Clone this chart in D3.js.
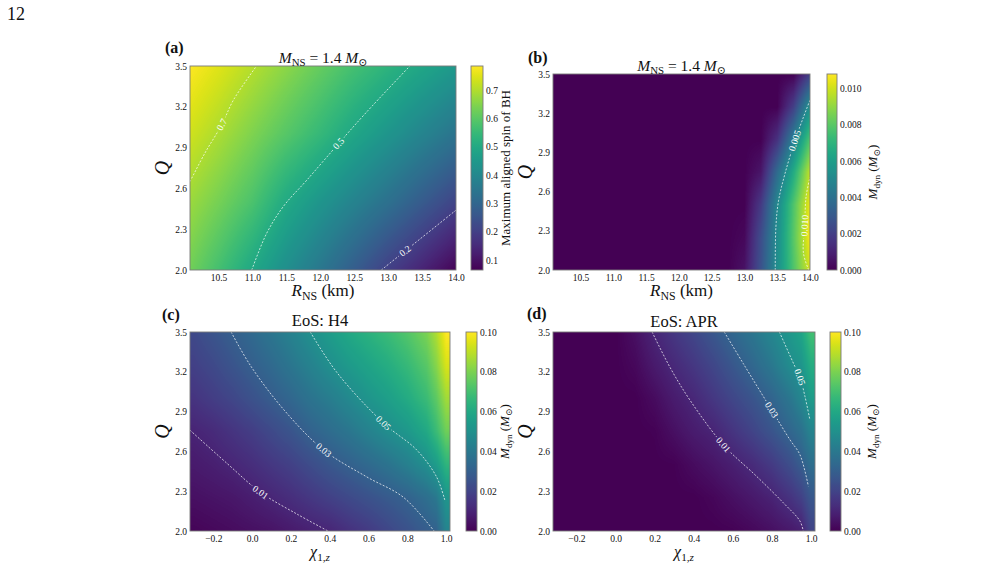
<!DOCTYPE html>
<html>
<head>
<meta charset="utf-8">
<script src="https://cdn.jsdelivr.net/npm/d3@7"></script>
<style>
  body { margin: 0; background: #fff; }
  svg text { font-family: "Liberation Serif", "DejaVu Serif", serif; fill: #111; }
</style>
</head>
<body>
<svg id="fig" width="993" height="581"></svg>
<script>
// ---- (a) maximum aligned BH spin over R_NS (km) and Q ----
const spinR = [10.0, 10.5, 11.0, 11.5, 12.0, 12.5, 13.0, 13.5, 14.0];
const spinQ = [2.0, 2.5, 3.0, 3.5];
const spinGrid = [
  [0.64, 0.57, 0.495, 0.42, 0.35, 0.275, 0.20, 0.135, 0.07],
  [0.685, 0.635, 0.58, 0.50, 0.44, 0.385, 0.33, 0.27, 0.21],
  [0.74, 0.695, 0.645, 0.595, 0.545, 0.49, 0.44, 0.39, 0.34],
  [0.79, 0.75, 0.705, 0.66, 0.615, 0.57, 0.53, 0.49, 0.45]
];
const spinContours = [
  { label: '0.7', at: 2, pts: [[10.08, 2.65], [10.30, 2.86], [10.55, 3.07], [10.72, 3.25], [11.06, 3.5]] },
  { label: '0.5', at: 4, pts: [[10.99, 2.0], [11.21, 2.27], [11.46, 2.47], [11.80, 2.66], [12.27, 2.93], [12.68, 3.16], [13.32, 3.5]] },
  { label: '0.2', at: 1, pts: [[12.90, 2.0], [13.25, 2.14], [14.0, 2.44]] }
];
const spinTicks = [0.1, 0.2, 0.3, 0.4, 0.5, 0.6, 0.7];

// ---- (b) dynamical ejecta mass over R_NS and Q ----
const ejR = [12.75, 13.0, 13.25, 13.5, 13.75, 14.0];
const ejQ = [2.0, 2.25, 2.5, 2.75, 3.0, 3.25, 3.5];
const ejGrid = [
  [0, 0.0005, 0.0027, 0.0053, 0.0078, 0.0101],
  [0, 0.0002, 0.0025, 0.0052, 0.0080, 0.0107],
  [0, 0, 0.0018, 0.0050, 0.0078, 0.0105],
  [0, 0, 0.0006, 0.0037, 0.0066, 0.0098],
  [0, 0, 0, 0.0015, 0.0046, 0.0078],
  [0, 0, 0, 0, 0.0020, 0.0055],
  [0, 0, 0, 0, 0, 0.0020]
];
const ejContours = [
  { label: '0.005', at: 4, pts: [[13.47, 2.0], [13.48, 2.33], [13.52, 2.53], [13.62, 2.74], [13.77, 2.99], [13.90, 3.17], [14.0, 3.30]] },
  { label: '0.010', at: 2, pts: [[13.98, 2.0], [13.90, 2.13], [13.92, 2.34], [13.94, 2.56], [14.0, 2.71]] }
];
const ejTicks = [0.000, 0.002, 0.004, 0.006, 0.008, 0.010];

// ---- (c), (d) dynamical ejecta mass over chi_1z and Q ----
const chiCols = [-0.3, -0.2, -0.1, 0.0, 0.1, 0.2, 0.3, 0.4, 0.5, 0.6, 0.7, 0.8, 0.9, 0.95, 1.0];
const chiQ = [2.0, 2.25, 2.5, 2.75, 3.0, 3.25, 3.5];
const mdynH4 = [
  [0.001, 0.002, 0.003, 0.004, 0.005, 0.007, 0.009, 0.0105, 0.014, 0.017, 0.021, 0.025, 0.029, 0.031, 0.045],
  [0.004, 0.005, 0.006, 0.008, 0.0105, 0.013, 0.016, 0.019, 0.022, 0.025, 0.028, 0.031, 0.036, 0.040, 0.052],
  [0.007, 0.0085, 0.0105, 0.013, 0.016, 0.019, 0.023, 0.027, 0.0305, 0.034, 0.038, 0.043, 0.0495, 0.055, 0.065],
  [0.010, 0.012, 0.015, 0.018, 0.022, 0.026, 0.031, 0.035, 0.039, 0.044, 0.049, 0.053, 0.060, 0.068, 0.078],
  [0.015, 0.018, 0.021, 0.025, 0.029, 0.033, 0.038, 0.042, 0.047, 0.052, 0.056, 0.061, 0.068, 0.075, 0.086],
  [0.019, 0.022, 0.026, 0.030, 0.034, 0.039, 0.044, 0.0495, 0.054, 0.058, 0.062, 0.067, 0.074, 0.082, 0.094],
  [0.022, 0.026, 0.030, 0.034, 0.039, 0.044, 0.050, 0.055, 0.060, 0.064, 0.068, 0.073, 0.080, 0.088, 0.100]
];
const mdynAPR = [
  [0, 0, 0, 0, 0, 0, 0, 0, 0, 0.0005, 0.002, 0.004, 0.0065, 0.0085, 0.020],
  [0, 0, 0, 0, 0, 0, 0, 0, 0.0015, 0.004, 0.0065, 0.0095, 0.015, 0.019, 0.027],
  [0, 0, 0, 0, 0, 0, 0.0003, 0.003, 0.0055, 0.0085, 0.012, 0.017, 0.024, 0.029, 0.036],
  [0, 0, 0, 0, 0, 0.0005, 0.004, 0.0075, 0.010, 0.015, 0.020, 0.026, 0.033, 0.037, 0.045],
  [0, 0, 0, 0, 0, 0.003, 0.0075, 0.011, 0.016, 0.021, 0.026, 0.032, 0.040, 0.046, 0.055],
  [0, 0, 0, 0, 0.002, 0.007, 0.0115, 0.016, 0.021, 0.027, 0.033, 0.040, 0.049, 0.052, 0.062],
  [0, 0, 0, 0, 0.004, 0.0105, 0.016, 0.021, 0.027, 0.033, 0.039, 0.046, 0.054, 0.058, 0.070]
];
const h4Contours = [
  { label: '0.01', at: 2, pts: [[-0.32, 2.76], [-0.128, 2.508], [0.043, 2.292], [0.232, 2.127], [0.391, 2.0]] },
  { label: '0.03', at: 3, pts: [[-0.108, 3.5], [-0.008, 3.246], [0.163, 2.915], [0.369, 2.61], [0.592, 2.407], [0.780, 2.254], [0.938, 2.0]] },
  { label: '0.05', at: 2, pts: [[0.300, 3.5], [0.437, 3.195], [0.677, 2.814], [0.849, 2.610], [0.951, 2.407], [0.994, 2.229]] }
];
const aprContours = [
  { label: '0.01', at: 3, pts: [[0.187, 3.5], [0.277, 3.2375], [0.380, 2.9875], [0.551, 2.65], [0.721, 2.4125], [0.858, 2.2125], [0.943, 2.075], [0.960, 2.0]] },
  { label: '0.03', at: 2, pts: [[0.556, 3.5], [0.653, 3.2625], [0.798, 2.9125], [0.892, 2.6875], [0.943, 2.575], [0.986, 2.3375]] },
  { label: '0.05', at: 2, pts: [[0.838, 3.5], [0.918, 3.2375], [0.943, 3.16], [0.969, 3.0125], [0.994, 2.8375]] }
];
const mdynTicks = [0.00, 0.02, 0.04, 0.06, 0.08, 0.10];

const qTicks = [2.0, 2.3, 2.6, 2.9, 3.2, 3.5];
const rTicks = [10.5, 11.0, 11.5, 12.0, 12.5, 13.0, 13.5, 14.0];
const chiTicks = [-0.2, 0.0, 0.2, 0.4, 0.6, 0.8, 1.0];

// =============================================================================
const svg = d3.select('#fig');
const defs = svg.append('defs');
const W = 993, H = 581;

// vertical viridis ramp for the colorbars
const grad = defs.append('linearGradient').attr('id', 'viridisV')
  .attr('x1', 0).attr('y1', 1).attr('x2', 0).attr('y2', 0);
d3.range(0, 1.0001, 1 / 40).forEach(t =>
  grad.append('stop').attr('offset', t).attr('stop-color', d3.interpolateViridis(t)));

svg.append('text').attr('x', 7).attr('y', 20).style('font-size', '18px').text('12');

function cellIndex(arr, v) {
  let i = d3.bisectRight(arr, v) - 1;
  i = Math.max(0, Math.min(arr.length - 2, i));
  const t = Math.max(0, Math.min(1, (v - arr[i]) / (arr[i + 1] - arr[i])));
  return [i, t];
}

// heatmap image: grid drawn at screen resolution with bilinear shading
function heatImage(g, xs, ys, grid, x, y, color) {
  const [px0, px1] = x.range();
  const [py1, py0] = y.range();
  const w = Math.round(px1 - px0), h = Math.round(py1 - py0);
  const canvas = document.createElement('canvas');
  canvas.width = w; canvas.height = h;
  const ctx = canvas.getContext('2d');
  const img = ctx.createImageData(w, h);
  for (let j = 0; j < h; j++) {
    const [yi, ty] = cellIndex(ys, y.invert(py0 + j + 0.5));
    for (let i = 0; i < w; i++) {
      const [xi, tx] = cellIndex(xs, x.invert(px0 + i + 0.5));
      const a = grid[yi][xi] * (1 - tx) + grid[yi][xi + 1] * tx;
      const b = grid[yi + 1][xi] * (1 - tx) + grid[yi + 1][xi + 1] * tx;
      const c = d3.rgb(color(a * (1 - ty) + b * ty));
      const k = (j * w + i) * 4;
      img.data[k] = c.r; img.data[k + 1] = c.g; img.data[k + 2] = c.b; img.data[k + 3] = 255;
    }
  }
  ctx.putImageData(img, 0, 0);
  g.append('image').attr('x', px0).attr('y', py0).attr('width', w).attr('height', h)
    .attr('preserveAspectRatio', 'none').attr('href', canvas.toDataURL());
}

function drawContours(g, id, lines, x, y) {
  const [px0, px1] = x.range();
  const [py1, py0] = y.range();
  defs.append('clipPath').attr('id', 'clip-' + id).append('rect')
    .attr('x', px0).attr('y', py0).attr('width', px1 - px0).attr('height', py1 - py0);
  const mask = defs.append('mask').attr('id', 'mask-' + id).attr('maskUnits', 'userSpaceOnUse')
    .attr('x', 0).attr('y', 0).attr('width', W).attr('height', H);
  mask.append('rect').attr('width', W).attr('height', H).attr('fill', '#fff');

  const line = d3.line().x(d => x(d[0])).y(d => y(d[1])).curve(d3.curveCatmullRom.alpha(0.5));
  const lg = g.append('g').attr('clip-path', `url(#clip-${id})`)
    .append('g').attr('mask', `url(#mask-${id})`);

  lines.forEach(c => {
    lg.append('path').attr('d', line(c.pts))
      .attr('fill', 'none').attr('stroke', '#fff').attr('stroke-width', 0.85)
      .attr('stroke-dasharray', '2,1.6').attr('opacity', 0.85);
    const p0 = c.pts[c.at - 1], p1 = c.pts[c.at + 1], p = c.pts[c.at];
    let ang = Math.atan2(y(p1[1]) - y(p0[1]), x(p1[0]) - x(p0[0])) * 180 / Math.PI;
    if (ang > 90) ang -= 180;
    if (ang < -90) ang += 180;
    const tr = `translate(${x(p[0])},${y(p[1])}) rotate(${ang})`;
    const t = g.append('text').attr('transform', tr).attr('text-anchor', 'middle').attr('dy', '0.33em')
      .style('font-size', '9.5px').style('fill', '#fff').text(c.label);
    const tw = t.node().getComputedTextLength();
    mask.append('rect').attr('transform', tr).attr('x', -tw / 2 - 2).attr('y', -4)
      .attr('width', tw + 4).attr('height', 8).attr('fill', '#000');
  });
}

function styleAxis(ag) {
  ag.select('.domain').remove();
  ag.attr('font-family', '"Liberation Serif", serif').attr('font-size', 9.5);
  ag.selectAll('text').style('fill', '#111');
}

function subText(sel, parts, size) {
  // parts: [text, italic?, subscript?]
  let shifted = false;
  parts.forEach(([txt, it, sub]) => {
    const ts = sel.append('tspan').text(txt);
    if (it) ts.style('font-style', 'italic');
    if (sub && !shifted) { ts.attr('dy', size * 0.22); shifted = true; }
    if (!sub && shifted) { ts.attr('dy', -size * 0.22); shifted = false; }
    if (sub) ts.style('font-size', (size * 0.7) + 'px');
  });
}

function panel(cfg) {
  const g = svg.append('g');
  const x = d3.scaleLinear().domain(cfg.xDomain).range([cfg.box.x0, cfg.box.x1]);
  const y = d3.scaleLinear().domain([2.0, 3.5]).range([cfg.box.y1, cfg.box.y0]);
  const color = d3.scaleSequential(d3.interpolateViridis).domain(cfg.cDomain).clamp(true);

  heatImage(g, cfg.xs, cfg.ys, cfg.grid, x, y, color);
  drawContours(g, cfg.id, cfg.contours, x, y);

  g.append('rect').attr('x', cfg.box.x0).attr('y', cfg.box.y0)
    .attr('width', cfg.box.x1 - cfg.box.x0).attr('height', cfg.box.y1 - cfg.box.y0)
    .attr('fill', 'none').attr('stroke', '#7a7a7a').attr('stroke-width', 0.9);

  g.append('g').attr('transform', `translate(0,${cfg.box.y1})`)
    .call(d3.axisBottom(x).tickValues(cfg.xTicks).tickSize(0).tickPadding(4).tickFormat(d3.format('.1f')))
    .call(styleAxis);
  g.append('g').attr('transform', `translate(${cfg.box.x0},0)`)
    .call(d3.axisLeft(y).tickValues(qTicks).tickSize(0).tickPadding(3).tickFormat(d3.format('.1f')))
    .call(styleAxis);

  // colorbar
  const cb = cfg.cbar;
  const cy = d3.scaleLinear().domain(cfg.cDomain).range([cfg.box.y1, cfg.box.y0]);
  g.append('rect').attr('x', cb.x).attr('y', cfg.box.y0).attr('width', cb.w)
    .attr('height', cfg.box.y1 - cfg.box.y0).attr('fill', 'url(#viridisV)')
    .attr('stroke', '#7a7a7a').attr('stroke-width', 0.9);
  g.append('g').attr('transform', `translate(${cb.x + cb.w},0)`)
    .call(d3.axisRight(cy).tickValues(cb.ticks).tickSize(0).tickPadding(3).tickFormat(d3.format(cb.fmt)))
    .call(styleAxis);

  const cx = (cfg.box.x0 + cfg.box.x1) / 2;
  const my = (cfg.box.y0 + cfg.box.y1) / 2;

  // colorbar label
  const cl = g.append('text').attr('text-anchor', 'middle')
    .attr('transform', `translate(${cb.labelX},${my}) rotate(-90)`).style('font-size', '13px');
  if (cb.label) cl.text(cb.label);
  else subText(cl, [['M', true], ['dyn', false, true], [' (', false], ['M', true], ['\u2299', false, true], [')', false]], 13);

  // y label
  g.append('text').attr('text-anchor', 'middle')
    .attr('transform', `translate(${cfg.box.x0 - 21},${my}) rotate(-90)`)
    .style('font-size', '20px').style('font-style', 'italic').text('Q');

  // x label
  const xl = g.append('text').attr('x', cx).attr('y', cfg.xlabY).attr('text-anchor', 'middle');
  if (cfg.xKind === 'R') {
    xl.style('font-size', '17px');
    subText(xl, [['R', true], ['NS', false, true], [' (km)', false]], 17);
  } else {
    xl.style('font-size', '16px');
    subText(xl, [['\u03c7', true], ['1,', false, true], ['z', true, true]], 16);
  }

  // title
  const tt = g.append('text').attr('x', cx).attr('y', cfg.titleY).attr('text-anchor', 'middle')
    .style('font-size', cfg.title ? '16.5px' : '15.5px');
  if (cfg.title) tt.text(cfg.title);
  else subText(tt, [['M', true], ['NS', false, true], [' = 1.4 ', false], ['M', true], ['\u2299', false, true]], 15.5);

  // panel tag
  g.append('text').attr('x', cfg.tag.x).attr('y', cfg.tag.y)
    .style('font-size', '16px').style('font-weight', 'bold').text(cfg.tag.t);
}

panel({
  id: 'a', box: { x0: 190, x1: 456, y0: 66, y1: 270 }, xDomain: [10.08, 14.0], xTicks: rTicks,
  xs: spinR, ys: spinQ, grid: spinGrid, cDomain: [0.065, 0.785], contours: spinContours,
  cbar: { x: 471, w: 12, ticks: spinTicks, fmt: '.1f', labelX: 510, label: 'Maximum aligned spin of BH' },
  xKind: 'R', xlabY: 296, titleY: 63, tag: { t: '(a)', x: 165, y: 53 }
});
panel({
  id: 'b', box: { x0: 553, x1: 810, y0: 74, y1: 270 }, xDomain: [10.08, 14.0], xTicks: rTicks,
  xs: ejR, ys: ejQ, grid: ejGrid, cDomain: [0, 0.0108], contours: ejContours,
  cbar: { x: 827, w: 10, ticks: ejTicks, fmt: '.3f', labelX: 877 },
  xKind: 'R', xlabY: 296, titleY: 71, tag: { t: '(b)', x: 528, y: 63 }
});
panel({
  id: 'c', box: { x0: 190, x1: 450, y0: 332, y1: 531 }, xDomain: [-0.32, 1.02], xTicks: chiTicks,
  xs: chiCols, ys: chiQ, grid: mdynH4, cDomain: [0, 0.10], contours: h4Contours,
  cbar: { x: 466, w: 11, ticks: mdynTicks, fmt: '.2f', labelX: 509 },
  xKind: 'chi', xlabY: 557, titleY: 326, title: 'EoS: H4', tag: { t: '(c)', x: 162, y: 320 }
});
panel({
  id: 'd', box: { x0: 553, x1: 815, y0: 332, y1: 531 }, xDomain: [-0.32, 1.02], xTicks: chiTicks,
  xs: chiCols, ys: chiQ, grid: mdynAPR, cDomain: [0, 0.10], contours: aprContours,
  cbar: { x: 830, w: 11, ticks: mdynTicks, fmt: '.2f', labelX: 876 },
  xKind: 'chi', xlabY: 557, titleY: 327, title: 'EoS: APR', tag: { t: '(d)', x: 527, y: 319 }
});
</script>
</body>
</html>
